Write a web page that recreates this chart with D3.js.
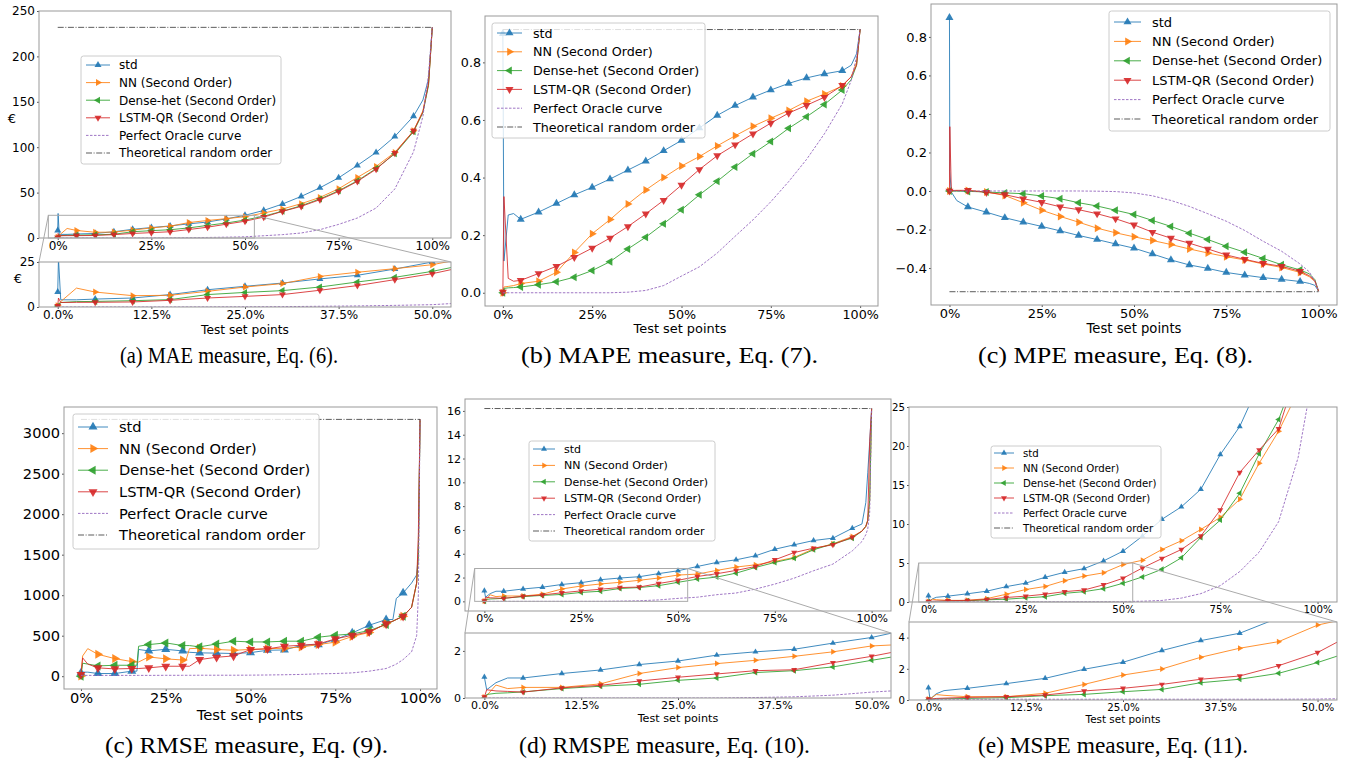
<!DOCTYPE html>
<html lang="en">
<head>
<meta charset="UTF-8">
<title>Error measures over test set points</title>
<script src="https://cdn.jsdelivr.net/npm/d3@7"></script>
<style>
  body {margin: 0; background: #fff;}
  svg text {font-family: "DejaVu Sans", sans-serif; fill: #000;}
  svg text.cap {font-family: "Liberation Serif", serif;}
</style>
</head>
<body>
<svg id="fig" width="1355" height="768"></svg>
<script>
// ---------- shared labels ----------
const seriesNames = ["std", "NN (Second Order)", "Dense-het (Second Order)", "LSTM-QR (Second Order)"];
const oracleName = "Perfect Oracle curve";
const randomName = "Theoretical random order";
const markerX = [0, 0.05, 0.1, 0.15, 0.2, 0.25, 0.3, 0.35, 0.4, 0.45, 0.5, 0.55, 0.6, 0.65, 0.7, 0.75, 0.8, 0.85, 0.9, 0.95];
const mainTicks = [0, 0.25, 0.5, 0.75, 1];
const mainTickLabels = ["0%", "25%", "50%", "75%", "100%"];
const insetTicks = [0, 0.125, 0.25, 0.375, 0.5];
const insetTickLabels = ["0.0%", "12.5%", "25.0%", "37.5%", "50.0%"];
const randomX = [0, 1];

// ---------- (a) MAE ----------
const maeX      = [0, 0.001, 0.004, 0.025, 0.05, 0.1, 0.15, 0.2, 0.25, 0.3, 0.35, 0.4, 0.45, 0.5, 0.55, 0.6, 0.65, 0.7, 0.75, 0.8, 0.85, 0.9, 0.95, 0.975, 0.99, 1];
const maeStd    = [8.3, 27, 4, 4, 4.4, 5, 6.9, 9.6, 11.5, 13.3, 15.6, 17.6, 21.1, 25, 30.4, 37.4, 45.8, 55.3, 66.3, 79.9, 94.2, 111.8, 134.2, 152, 175, 232];
const maeNN     = [0.7, 0.8, 3, 10.5, 8.3, 6.3, 6.5, 8.7, 11.1, 13, 17, 19.3, 21.3, 23.5, 27.5, 31.9, 37.8, 44.7, 54.2, 66.7, 78.8, 94.3, 118, 140, 170, 232];
const maeDense  = [0.5, 0.5, 2.5, 3, 3.1, 3.5, 4.1, 6.9, 8.1, 9.1, 11.1, 13.9, 16.5, 19.8, 24, 29.5, 35.5, 43, 52, 63, 76.5, 92.7, 117, 138, 168, 232];
const maeLstm   = [0.5, 5, 2.5, 2.6, 2.6, 2.8, 3.7, 5, 5.9, 6.9, 9.3, 11.9, 15.2, 18.5, 23, 29.3, 34.8, 42.2, 51.3, 62.3, 75.7, 93.5, 118, 139, 170, 232];
const maeOracle = [0, 0, 0, 0, 0, 0, 0, 0.05, 0.1, 0.2, 0.4, 0.6, 0.9, 1.3, 2.5, 3.7, 5.5, 9.2, 15, 22, 33, 54, 95, 134, 180, 232];
const maeRandom = [232, 232];
const maeYTicks = [0, 50, 100, 150, 200, 250];
const maeInsetYTicks = [0, 25];

// ---------- (b) MAPE ----------
const mapeX      = [0, 0.003, 0.015, 0.03, 0.05, 0.1, 0.15, 0.2, 0.25, 0.3, 0.35, 0.4, 0.45, 0.5, 0.55, 0.6, 0.65, 0.7, 0.75, 0.8, 0.85, 0.9, 0.95, 0.975, 0.99, 1];
const mapeStd    = [0.9, 0.11, 0.27, 0.275, 0.255, 0.28, 0.31, 0.34, 0.366, 0.395, 0.426, 0.457, 0.493, 0.529, 0.572, 0.616, 0.65, 0.679, 0.704, 0.727, 0.746, 0.76, 0.771, 0.79, 0.83, 0.915];
const mapeNN     = [0, 0.02, 0.022, 0.025, 0.032, 0.04, 0.071, 0.14, 0.205, 0.254, 0.308, 0.357, 0.4, 0.44, 0.473, 0.51, 0.545, 0.578, 0.606, 0.633, 0.665, 0.69, 0.718, 0.75, 0.8, 0.915];
const mapeDense  = [0, 0.015, 0.017, 0.018, 0.02, 0.028, 0.038, 0.054, 0.077, 0.108, 0.152, 0.193, 0.24, 0.288, 0.34, 0.387, 0.437, 0.483, 0.525, 0.571, 0.611, 0.654, 0.704, 0.74, 0.79, 0.915];
const mapeLstm   = [0.002, 0.334, 0.05, 0.04, 0.043, 0.067, 0.092, 0.123, 0.155, 0.19, 0.23, 0.274, 0.321, 0.374, 0.428, 0.476, 0.514, 0.552, 0.589, 0.624, 0.651, 0.679, 0.72, 0.75, 0.79, 0.915];
const mapeOracle = [0, 0, 0, 0, 0, 0, 0, 0, 0, 0, 0.002, 0.008, 0.025, 0.058, 0.09, 0.138, 0.196, 0.253, 0.316, 0.386, 0.463, 0.552, 0.656, 0.737, 0.82, 0.915];
const mapeRandom = [0.914, 0.914];
const mapeYTicks = [0, 0.2, 0.4, 0.6, 0.8];

// ---------- (c) MPE ----------
const mpeX      = [0, 0.001, 0.005, 0.02, 0.05, 0.1, 0.15, 0.2, 0.25, 0.3, 0.35, 0.4, 0.45, 0.5, 0.55, 0.6, 0.65, 0.7, 0.75, 0.8, 0.85, 0.9, 0.95, 0.975, 0.99, 1];
const mpeStd    = [0.9, 0.1, -0.005, -0.05, -0.083, -0.11, -0.139, -0.162, -0.184, -0.207, -0.231, -0.252, -0.275, -0.297, -0.327, -0.358, -0.384, -0.402, -0.423, -0.437, -0.45, -0.459, -0.47, -0.48, -0.49, -0.52];
const mpeNN     = [0, 0, 0.002, 0.003, 0.003, -0.005, -0.023, -0.061, -0.1, -0.132, -0.162, -0.193, -0.217, -0.238, -0.257, -0.278, -0.301, -0.322, -0.341, -0.358, -0.379, -0.397, -0.423, -0.445, -0.47, -0.52];
const mpeDense  = [0, 0, 0, -0.001, -0.002, -0.005, -0.01, -0.014, -0.026, -0.04, -0.061, -0.078, -0.1, -0.122, -0.153, -0.184, -0.219, -0.252, -0.287, -0.318, -0.35, -0.383, -0.41, -0.43, -0.46, -0.52];
const mpeLstm   = [0, 0.334, 0.003, 0.003, 0.003, -0.007, -0.019, -0.04, -0.059, -0.082, -0.097, -0.118, -0.144, -0.176, -0.214, -0.245, -0.271, -0.301, -0.332, -0.355, -0.376, -0.391, -0.417, -0.44, -0.465, -0.52];
const mpeOracle = [0, 0, 0, 0, 0, 0, 0, 0, 0, 0, 0, -0.001, -0.003, -0.01, -0.025, -0.049, -0.08, -0.118, -0.157, -0.205, -0.261, -0.313, -0.379, -0.42, -0.47, -0.52];
const mpeRandom = [-0.523, -0.523];
const mpeYTicks = [-0.4, -0.2, 0, 0.2, 0.4, 0.6, 0.8];

// ---------- (c) RMSE ----------
const rmseX      = [0, 0.005, 0.02, 0.05, 0.1, 0.15, 0.165, 0.17, 0.2, 0.25, 0.3, 0.31, 0.32, 0.35, 0.4, 0.45, 0.5, 0.55, 0.6, 0.65, 0.7, 0.75, 0.8, 0.85, 0.9, 0.92, 0.93, 0.95, 0.975, 0.99, 0.995, 1];
const rmseStd    = [40, 50, 50, 33, 33, 62, 62, 330, 312, 332, 312, 300, 295, 288, 285, 280, 291, 320, 324, 380, 390, 452, 534, 629, 699, 700, 960, 1027, 1150, 1250, 1500, 3170];
const rmseNN     = [4, 250, 340, 270, 217, 180, 175, 175, 238, 214, 200, 200, 340, 345, 330, 320, 330, 340, 345, 360, 390, 420, 490, 540, 650, 680, 700, 740, 850, 1150, 1500, 3170];
const rmseDense  = [0, 160, 150, 127, 135, 135, 135, 370, 390, 411, 378, 378, 378, 362, 398, 432, 423, 423, 432, 432, 481, 505, 522, 563, 637, 680, 700, 740, 850, 1150, 1500, 3170];
const rmseLstm   = [20, 226, 150, 103, 90, 95, 95, 95, 103, 123, 123, 123, 123, 205, 234, 250, 329, 337, 370, 382, 398, 460, 505, 547, 645, 680, 700, 740, 850, 1150, 1750, 3170];
const rmseOracle = [10, 10, 10, 10, 10, 10, 10, 10, 10, 11, 11, 11, 11, 12, 12, 12, 13, 15, 18, 22, 29, 33, 41, 62, 95, 130, 150, 205, 300, 500, 1000, 3170];
const rmseRandom = [3170, 3170];
const rmseYTicks = [0, 500, 1000, 1500, 2000, 2500, 3000];

// ---------- (d) RMSPE ----------
const rmspeX      = [0, 0.003, 0.015, 0.03, 0.05, 0.1, 0.15, 0.2, 0.25, 0.3, 0.35, 0.4, 0.45, 0.5, 0.55, 0.6, 0.65, 0.7, 0.75, 0.8, 0.85, 0.9, 0.95, 0.975, 0.985, 0.99, 0.995, 1];
const rmspeStd    = [0.89, 0.35, 0.65, 0.85, 0.85, 1.04, 1.19, 1.42, 1.57, 1.82, 1.96, 2.07, 2.33, 2.57, 2.93, 3.27, 3.49, 3.83, 4.38, 4.75, 5.11, 5.31, 6.14, 6.5, 8.3, 10.8, 13.4, 16.2];
const rmspeNN     = [0.04, 0.1, 0.55, 0.4, 0.45, 0.45, 0.6, 1.04, 1.29, 1.46, 1.6, 1.77, 1.96, 2.21, 2.29, 2.6, 2.88, 3.07, 3.35, 3.69, 4.41, 4.83, 5.45, 5.9, 6.3, 6.8, 8.5, 16.2];
const rmspeDense  = [0, 0.15, 0.2, 0.22, 0.26, 0.4, 0.5, 0.58, 0.75, 0.85, 1.08, 1.16, 1.32, 1.6, 1.87, 2.04, 2.37, 2.85, 3.27, 3.63, 4.33, 4.83, 5.31, 5.9, 6.3, 6.8, 8.5, 16.2];
const rmspeLstm   = [0.04, 0.35, 0.3, 0.28, 0.25, 0.43, 0.54, 0.72, 0.88, 1.02, 1.16, 1.2, 1.5, 1.77, 2.09, 2.32, 2.6, 2.93, 3.49, 4.1, 4.47, 4.75, 5.39, 5.9, 6.3, 6.8, 13.4, 16.2];
const rmspeOracle = [0, 0, 0, 0, 0, 0, 0, 0, 0, 0, 0.02, 0.05, 0.12, 0.25, 0.35, 0.56, 0.7, 1.03, 1.45, 1.95, 2.57, 3.13, 4.24, 5.03, 5.6, 6.1, 7.5, 16.2];
const rmspeRandom = [16.2, 16.2];
const rmspeYTicks = [0, 2, 4, 6, 8, 10, 12, 14, 16];
const rmspeInsetYTicks = [0, 2];

// ---------- (e) MSPE ----------
const mspeX      = [0, 0.002, 0.01, 0.02, 0.05, 0.1, 0.15, 0.2, 0.25, 0.3, 0.35, 0.4, 0.45, 0.5, 0.55, 0.6, 0.65, 0.7, 0.75, 0.8, 0.85, 0.9, 0.95, 0.975, 1];
const mspeStd    = [0.79, 0.05, 0.4, 0.6, 0.75, 1.05, 1.39, 1.97, 2.42, 3.17, 3.81, 4.28, 5.27, 6.52, 8.45, 10.6, 12.2, 14.45, 18.9, 22.5, 28, 35, 45, 50, 60];
const mspeNN     = [0.06, 0.06, 0.35, 0.3, 0.21, 0.21, 0.43, 1.0, 1.6, 1.99, 2.74, 3.32, 3.74, 4.8, 5.36, 6.73, 7.85, 9.3, 10.85, 13.16, 17.8, 21.9, 27, 35, 60];
const mspeDense  = [0.04, 0.04, 0.06, 0.08, 0.1, 0.15, 0.28, 0.36, 0.53, 0.68, 1.11, 1.33, 1.71, 2.4, 3.22, 4.2, 5.66, 8.28, 10.5, 13.94, 19, 23.4, 30, 40, 60];
const mspeLstm   = [0.06, 0.06, 0.1, 0.12, 0.17, 0.21, 0.32, 0.58, 0.75, 1.0, 1.33, 1.54, 2.2, 3.04, 4.37, 5.57, 6.73, 8.45, 11.8, 16.6, 19.5, 22.2, 30, 40, 60];
const mspeOracle = [0.05, 0.05, 0.05, 0.05, 0.05, 0.05, 0.05, 0.05, 0.05, 0.05, 0.05, 0.05, 0.05, 0.06, 0.1, 0.2, 0.5, 1.07, 2.1, 3.9, 6.4, 10.3, 18.5, 25.5, 60];
const mspeRandom = [60, 60];
const mspeYTicks = [0, 5, 10, 15, 20, 25];
const mspeInsetYTicks = [0, 2, 4];

// ---------- styles / layout ----------
const styles = [
  {color: "#1f77b4", rot: 0},
  {color: "#ff7f0e", rot: 90},
  {color: "#2ca02c", rot: -90},
  {color: "#d62728", rot: 180}
];
const oracleColor = "#9467bd";
const randomColor = "#333";
const frameColor = "#999";

const panels = [
  {xs: maeX, series: [maeStd, maeNN, maeDense, maeLstm], oracle: maeOracle, random: maeRandom,
   font: 12, ms: 7,
   main: {x0: 39, x1: 451, y0: 11, y1: 238, yDom: [0, 250], yTicks: maeYTicks, fmt: d3.format("d"), ylab: [12, 118]},
   inset: {x0: 39, x1: 451, y0: 262, y1: 307, yDom: [0, 25], yTicks: maeInsetYTicks, fmt: d3.format("d"), ylab: [18, 278]},
   xlab: [245, 334],
   legend: {x: 81, y: 56, w: 200, h: 108, r0: 65, dr: 17.6, h0: 86, h1: 110, tx: 119}},
  {xs: mapeX, series: [mapeStd, mapeNN, mapeDense, mapeLstm], oracle: mapeOracle, random: mapeRandom,
   font: 12.7, ms: 8,
   main: {x0: 485, x1: 878, y0: 16, y1: 306, yDom: [-0.046, 0.961], yTicks: mapeYTicks, fmt: d3.format(".1f")},
   xlab: [680, 333],
   legend: {x: 492, y: 23, w: 213, h: 115, r0: 33, dr: 18.8, h0: 497, h1: 522, tx: 533}},
  {xs: mpeX, series: [mpeStd, mpeNN, mpeDense, mpeLstm], oracle: mpeOracle, random: mpeRandom,
   font: 13, ms: 8,
   main: {x0: 931, x1: 1337, y0: 4, y1: 305, yDom: [-0.592, 0.971], yTicks: mpeYTicks, fmt: d3.format(".1f")},
   xlab: [1134, 333],
   legend: {x: 1109, y: 11, w: 221, h: 120, r0: 22, dr: 19.4, h0: 1114, h1: 1141, tx: 1152}},
  {xs: rmseX, series: [rmseStd, rmseNN, rmseDense, rmseLstm], oracle: rmseOracle, random: rmseRandom,
   font: 14.6, ms: 9,
   main: {x0: 64, x1: 437, y0: 407, y1: 689, yDom: [-158, 3323], yTicks: rmseYTicks, fmt: d3.format("d")},
   xlab: [250, 720],
   legend: {x: 73, y: 414, w: 246, h: 135, r0: 427, dr: 21.6, h0: 78, h1: 108, tx: 119}},
  {xs: rmspeX, series: [rmspeStd, rmspeNN, rmspeDense, rmspeLstm], oracle: rmspeOracle, random: rmspeRandom,
   font: 11, ms: 6,
   main: {x0: 465, x1: 891, y0: 399, y1: 611, yDom: [-0.81, 17.0], yTicks: rmspeYTicks, fmt: d3.format("d")},
   inset: {x0: 465, x1: 891, y0: 633, y1: 698, yDom: [0, 2.76], yTicks: rmspeInsetYTicks, fmt: d3.format("d")},
   xlab: [678, 722],
   legend: {x: 529, y: 441, w: 186, h: 100, r0: 449, dr: 16.4, h0: 533, h1: 555, tx: 564}},
  {xs: mspeX, series: [mspeStd, mspeNN, mspeDense, mspeLstm], oracle: mspeOracle, random: mspeRandom,
   font: 10.2, ms: 6,
   main: {x0: 909, x1: 1337, y0: 407, y1: 602, yDom: [0, 25], yTicks: mspeYTicks, fmt: d3.format("d")},
   inset: {x0: 909, x1: 1337, y0: 622, y1: 700, yDom: [0, 5], yTicks: mspeInsetYTicks, fmt: d3.format("d")},
   xlab: [1123, 723],
   legend: {x: 991, y: 446, w: 170, h: 92, r0: 453, dr: 15, h0: 994, h1: 1014, tx: 1023}}
];

const captions = [
  {text: "(a) MAE measure, Eq. (6).", x: 120, y: 363, w: 218},
  {text: "(b) MAPE measure, Eq. (7).", x: 521, y: 363, w: 297},
  {text: "(c) MPE measure, Eq. (8).", x: 978, y: 363, w: 275},
  {text: "(c) RMSE measure, Eq. (9).", x: 105, y: 753, w: 283},
  {text: "(d) RMSPE measure, Eq. (10).", x: 519, y: 753, w: 291},
  {text: "(e) MSPE measure, Eq. (11).", x: 978, y: 753, w: 270}
];

const svg = d3.select("#fig");
const defs = svg.append("defs");
let clipCount = 0;

function tri(ms) {
  return d3.symbol(d3.symbolTriangle, ms * ms * 0.433)();
}

// one set of axes: scales, clipped plot group, ticks, frame
function makeAxes(box, xDom, xTicks, xLabels, font) {
  const x = d3.scaleLinear().domain(xDom).range([box.x0, box.x1]);
  const y = d3.scaleLinear().domain(box.yDom).range([box.y1, box.y0]);
  const id = "clip" + (clipCount++);
  defs.append("clipPath").attr("id", id).append("rect")
    .attr("x", box.x0).attr("y", box.y0)
    .attr("width", box.x1 - box.x0).attr("height", box.y1 - box.y0);
  const g = svg.append("g");
  const plot = g.append("g").attr("clip-path", "url(#" + id + ")");

  const xa = g.append("g").attr("transform", "translate(0," + box.y1 + ")")
    .call(d3.axisBottom(x).tickValues(xTicks).tickFormat((d, i) => xLabels[i])
      .tickSize(2).tickPadding(1.5).tickSizeOuter(0));
  const ya = g.append("g").attr("transform", "translate(" + box.x0 + ",0)")
    .call(d3.axisLeft(y).tickValues(box.yTicks).tickFormat(box.fmt)
      .tickSize(2).tickPadding(2).tickSizeOuter(0));
  [xa, ya].forEach(a => {
    a.select(".domain").remove();
    a.attr("font-family", null).attr("font-size", null);
    a.selectAll("line").attr("stroke", "#555");
    a.selectAll("text").style("font-size", font + "px");
  });
  return {x, y, g, plot, box};
}

function drawData(ax, p) {
  const line = d3.line().x(d => ax.x(d[0])).y(d => ax.y(d[1]));
  p.series.forEach((vals, k) => {
    const pts = p.xs.map((xv, i) => [xv, vals[i]]);
    ax.plot.append("path").attr("d", line(pts))
      .attr("fill", "none").attr("stroke", styles[k].color)
      .attr("stroke-width", 1).attr("stroke-opacity", 0.85);
    const mk = pts.filter(d => markerX.some(m => Math.abs(m - d[0]) < 1e-9));
    ax.plot.selectAll(null).data(mk).join("path")
      .attr("d", tri(p.ms))
      .attr("transform", d => "translate(" + ax.x(d[0]) + "," + ax.y(d[1]) + ") rotate(" + styles[k].rot + ")")
      .attr("fill", styles[k].color).attr("fill-opacity", 0.9);
  });
  ax.plot.append("path").attr("d", line(p.xs.map((xv, i) => [xv, p.oracle[i]])))
    .attr("fill", "none").attr("stroke", oracleColor).attr("stroke-width", 0.9)
    .attr("stroke-dasharray", "2.5,1.5");
  ax.plot.append("path").attr("d", line(randomX.map((xv, i) => [xv, p.random[i]])))
    .attr("fill", "none").attr("stroke", randomColor).attr("stroke-opacity", 0.8)
    .attr("stroke-width", 1).attr("stroke-dasharray", "6,1.6,1,1.6");
}

function frame(ax) {
  const b = ax.box;
  ax.g.append("rect").attr("x", b.x0).attr("y", b.y0)
    .attr("width", b.x1 - b.x0).attr("height", b.y1 - b.y0)
    .attr("fill", "none").attr("stroke", frameColor).attr("stroke-width", 1);
}

function drawLegend(p) {
  const L = p.legend;
  const g = svg.append("g");
  g.append("rect").attr("x", L.x).attr("y", L.y).attr("width", L.w).attr("height", L.h)
    .attr("rx", 2.5).attr("fill", "#fff").attr("fill-opacity", 0.8)
    .attr("stroke", "#ccc").attr("stroke-width", 1);
  const names = seriesNames.concat([oracleName, randomName]);
  names.forEach((name, i) => {
    const ry = L.r0 + i * L.dr;
    const h = g.append("line").attr("x1", L.h0).attr("x2", L.h1).attr("y1", ry).attr("y2", ry)
      .attr("stroke-width", 1);
    if (i < 4) {
      h.attr("stroke", styles[i].color).attr("stroke-opacity", 0.85);
      g.append("path").attr("d", tri(p.ms))
        .attr("transform", "translate(" + (L.h0 + L.h1) / 2 + "," + ry + ") rotate(" + styles[i].rot + ")")
        .attr("fill", styles[i].color).attr("fill-opacity", 0.9);
    } else if (i === 4) {
      h.attr("stroke", oracleColor).attr("stroke-width", 0.9).attr("stroke-dasharray", "2.5,1.5");
    } else {
      h.attr("stroke", randomColor).attr("stroke-opacity", 0.8).attr("stroke-dasharray", "6,1.6,1,1.6");
    }
    g.append("text").attr("x", L.tx).attr("y", ry).attr("dy", "0.36em")
      .style("font-size", p.font + "px").text(name);
  });
}

panels.forEach(p => {
  const main = makeAxes(p.main, [-0.05, 1.05], mainTicks, mainTickLabels, p.font);
  drawData(main, p);
  frame(main);
  if (p.main.ylab) {
    svg.append("text").attr("x", p.main.ylab[0]).attr("y", p.main.ylab[1]).attr("dy", "0.36em")
      .attr("text-anchor", "middle").style("font-size", (p.font + 1) + "px").text("€");
  }
  if (p.inset) {
    const ins = makeAxes(p.inset, [-0.025, 0.525], insetTicks, insetTickLabels, p.font);
    drawData(ins, p);
    frame(ins);
    if (p.inset.ylab) {
      svg.append("text").attr("x", p.inset.ylab[0]).attr("y", p.inset.ylab[1]).attr("dy", "0.36em")
        .attr("text-anchor", "middle").style("font-size", (p.font + 1) + "px").text("€");
    }
    // zoom indicator in the main axes and its connectors
    const rx0 = main.x(-0.025), rx1 = main.x(0.525);
    const ry0 = main.y(p.inset.yDom[1]), ry1 = main.y(p.inset.yDom[0]);
    const zg = svg.append("g").attr("stroke", "#aaa").attr("stroke-width", 1).attr("fill", "none");
    zg.append("rect").attr("x", rx0).attr("y", ry0).attr("width", rx1 - rx0).attr("height", ry1 - ry0);
    zg.append("line").attr("x1", rx0).attr("y1", ry0).attr("x2", p.inset.x0).attr("y2", p.inset.y0);
    zg.append("line").attr("x1", rx1).attr("y1", ry0).attr("x2", p.inset.x1).attr("y2", p.inset.y0);
  }
  svg.append("text").attr("x", p.xlab[0]).attr("y", p.xlab[1])
    .attr("text-anchor", "middle").style("font-size", (p.font + 0.2) + "px").text("Test set points");
  drawLegend(p);
});

svg.selectAll("text.cap").data(captions).join("text")
  .attr("class", "cap")
  .attr("x", d => d.x).attr("y", d => d.y)
  .attr("textLength", d => d.w).attr("lengthAdjust", "spacingAndGlyphs")
  .style("font-size", "23px")
  .text(d => d.text);
</script>
</body>
</html>
